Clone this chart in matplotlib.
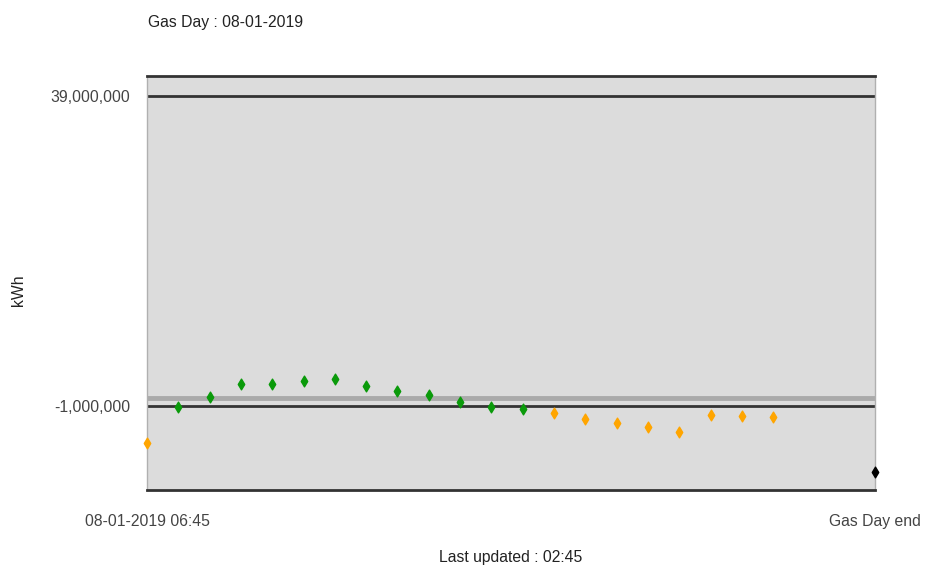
import matplotlib.pyplot as plt
from matplotlib.ticker import FuncFormatter

plt.rcParams['font.family'] = ['Liberation Sans', 'DejaVu Sans']

# hours after 08-01-2019 06:45
green_hours = [1, 2, 3, 4, 5, 6, 7, 8, 9, 10, 11, 12]
green_kwh = [-1090000, 120000, 1800000, 1800000, 2190000, 2480000, 1620000,
             940000, 380000, -530000, -1130000, -1330000]
orange_hours = [0, 13, 14, 15, 16, 17, 18, 19, 20]
orange_kwh = [-5810000, -1940000, -2680000, -3230000, -3670000, -4320000,
              -2160000, -2250000, -2370000]
end_hour = [23.25]
end_kwh = [-9480000]

y_ticks = [39000000, -1000000]
x_ticks = [0, 23.25]
x_labels = ['08-01-2019 06:45', 'Gas Day end']

fig = plt.figure(figsize=(9.26, 5.7), dpi=100)
ax = fig.add_axes([0.1587, 0.1404, 0.7862, 0.7263])
ax.set_facecolor('#dcdcdc')

ax.axhline(39000000, color='#333333', lw=2, zorder=2)
ax.axhline(0, color='#aaaaaa', lw=3.5, zorder=2)
ax.axhline(-1000000, color='#333333', lw=2, zorder=2)

ax.scatter(green_hours, green_kwh, marker='d', s=30, color='#0a9a0a', zorder=3, clip_on=False)
ax.scatter(orange_hours, orange_kwh, marker='d', s=30, color='#ffa500', zorder=3, clip_on=False)
ax.scatter(end_hour, end_kwh, marker='d', s=30, color='black', zorder=3, clip_on=False)

ax.set_xlim(0, 23.25)
ax.set_ylim(-11840000, 41580000)

ax.set_yticks(y_ticks)
ax.yaxis.set_major_formatter(FuncFormatter(lambda v, p: f'{int(v):,}'))
ax.set_xticks(x_ticks)
ax.set_xticklabels(x_labels)
ax.tick_params(length=0, labelsize=11.3, colors='#444444', pad=12)
ax.tick_params(axis='x', pad=17)

for s in ['top', 'bottom']:
    ax.spines[s].set_color('#333333')
    ax.spines[s].set_linewidth(2)
for s in ['left', 'right']:
    ax.spines[s].set_color('#b0b0b0')
    ax.spines[s].set_linewidth(1)

fig.text(0.0195, 0.491, 'kWh', fontsize=11.3, color='#222222', rotation=90, ha='center', va='center')
fig.text(0.16, 0.96, 'Gas Day : 08-01-2019', fontsize=11.3, color='#222222', va='center')
fig.text(0.551, 0.022, 'Last updated : 02:45', fontsize=11.3, color='#222222', ha='center', va='center')

fig.savefig('out.png', dpi=100)
